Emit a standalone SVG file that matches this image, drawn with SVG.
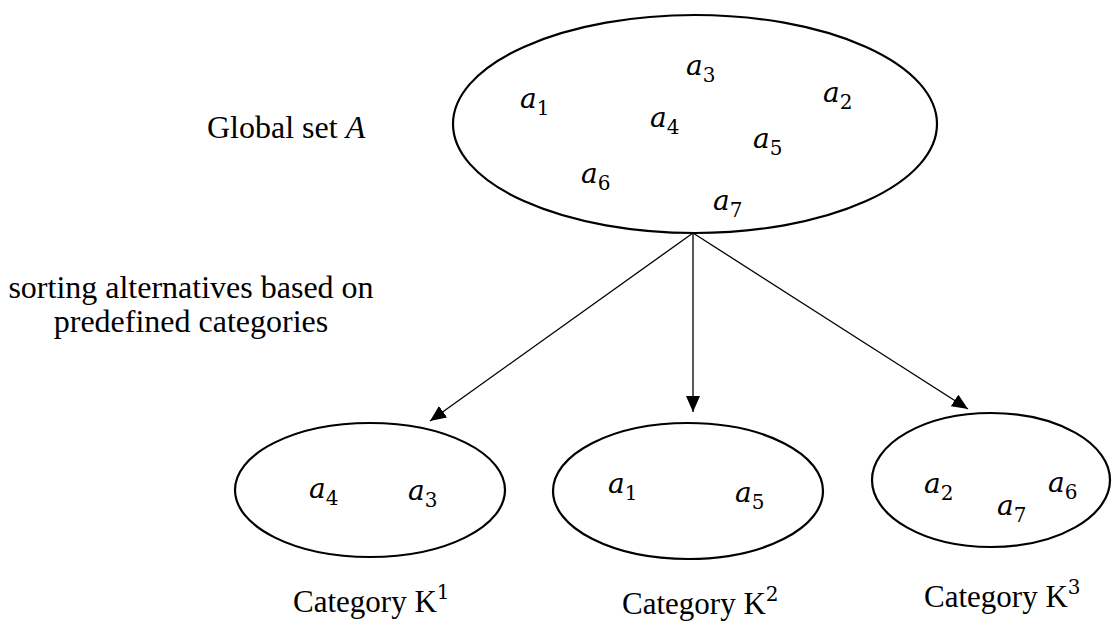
<svg xmlns="http://www.w3.org/2000/svg" width="1112" height="622" viewBox="0 0 1112 622">
  <style>
    .set { fill: none; stroke: #000; stroke-width: 2.2; }
    .label { font-family: "Liberation Serif", "Times New Roman", serif; font-size: 32px; fill: #000; }
    .cat { font-family: "Liberation Serif", "Times New Roman", serif; font-size: 31px; fill: #000; }
    .math { font-family: "DejaVu Serif", serif; font-style: italic; font-size: 28px; fill: #000; }
    .sub { font-style: normal; font-size: 20px; }
    .sup { font-family: "DejaVu Serif", serif; font-size: 20px; }
    .edge { stroke: #000; stroke-width: 1.3; fill: none; marker-end: url(#head); }
  </style>
  <defs>
    <marker id="head" markerUnits="userSpaceOnUse" markerWidth="17" markerHeight="14" refX="16" refY="7" orient="auto">
      <path d="M0,0 L16,7 L0,14 z" fill="#000"/>
    </marker>
  </defs>

  <rect width="1112" height="622" fill="#fff"/>

  <!-- side captions -->
  <text class="label" x="207" y="138">Global set <tspan font-style="italic">A</tspan></text>
  <text class="label" x="191" y="298" text-anchor="middle">sorting alternatives based on</text>
  <text class="label" x="191" y="332" text-anchor="middle">predefined categories</text>

  <!-- global set of alternatives -->
  <g id="global-set">
    <ellipse class="set" cx="695" cy="124" rx="242" ry="109"/>
    <text class="math" x="686" y="75">a<tspan class="sub" dy="7">3</tspan></text>
    <text class="math" x="520" y="108">a<tspan class="sub" dy="7">1</tspan></text>
    <text class="math" x="823" y="102">a<tspan class="sub" dy="7">2</tspan></text>
    <text class="math" x="650" y="127">a<tspan class="sub" dy="7">4</tspan></text>
    <text class="math" x="753" y="148">a<tspan class="sub" dy="7">5</tspan></text>
    <text class="math" x="581" y="183">a<tspan class="sub" dy="7">6</tspan></text>
    <text class="math" x="713" y="210">a<tspan class="sub" dy="7">7</tspan></text>
  </g>

  <!-- assignment arrows -->
  <g id="connectors">
    <line class="edge" x1="693" y1="233" x2="430" y2="421"/>
    <line class="edge" x1="693" y1="233" x2="693" y2="412"/>
    <line class="edge" x1="693" y1="233" x2="968" y2="409"/>
  </g>

  <!-- category K1 -->
  <g id="category-k1">
    <ellipse class="set" cx="370" cy="490" rx="135" ry="67"/>
    <text class="math" x="309" y="498">a<tspan class="sub" dy="7">4</tspan></text>
    <text class="math" x="408" y="500">a<tspan class="sub" dy="7">3</tspan></text>
    <text class="cat" x="293" y="612">Category K<tspan class="sup" dy="-13">1</tspan></text>
  </g>

  <!-- category K2 -->
  <g id="category-k2">
    <ellipse class="set" cx="688" cy="491" rx="135" ry="68"/>
    <text class="math" x="608" y="493">a<tspan class="sub" dy="7">1</tspan></text>
    <text class="math" x="735" y="502">a<tspan class="sub" dy="7">5</tspan></text>
    <text class="cat" x="622" y="614">Category K<tspan class="sup" dy="-13">2</tspan></text>
  </g>

  <!-- category K3 -->
  <g id="category-k3">
    <ellipse class="set" cx="991" cy="480" rx="119" ry="67"/>
    <text class="math" x="924" y="493">a<tspan class="sub" dy="7">2</tspan></text>
    <text class="math" x="1048" y="492">a<tspan class="sub" dy="7">6</tspan></text>
    <text class="math" x="997" y="515">a<tspan class="sub" dy="7">7</tspan></text>
    <text class="cat" x="924" y="607">Category K<tspan class="sup" dy="-13">3</tspan></text>
  </g>
</svg>
